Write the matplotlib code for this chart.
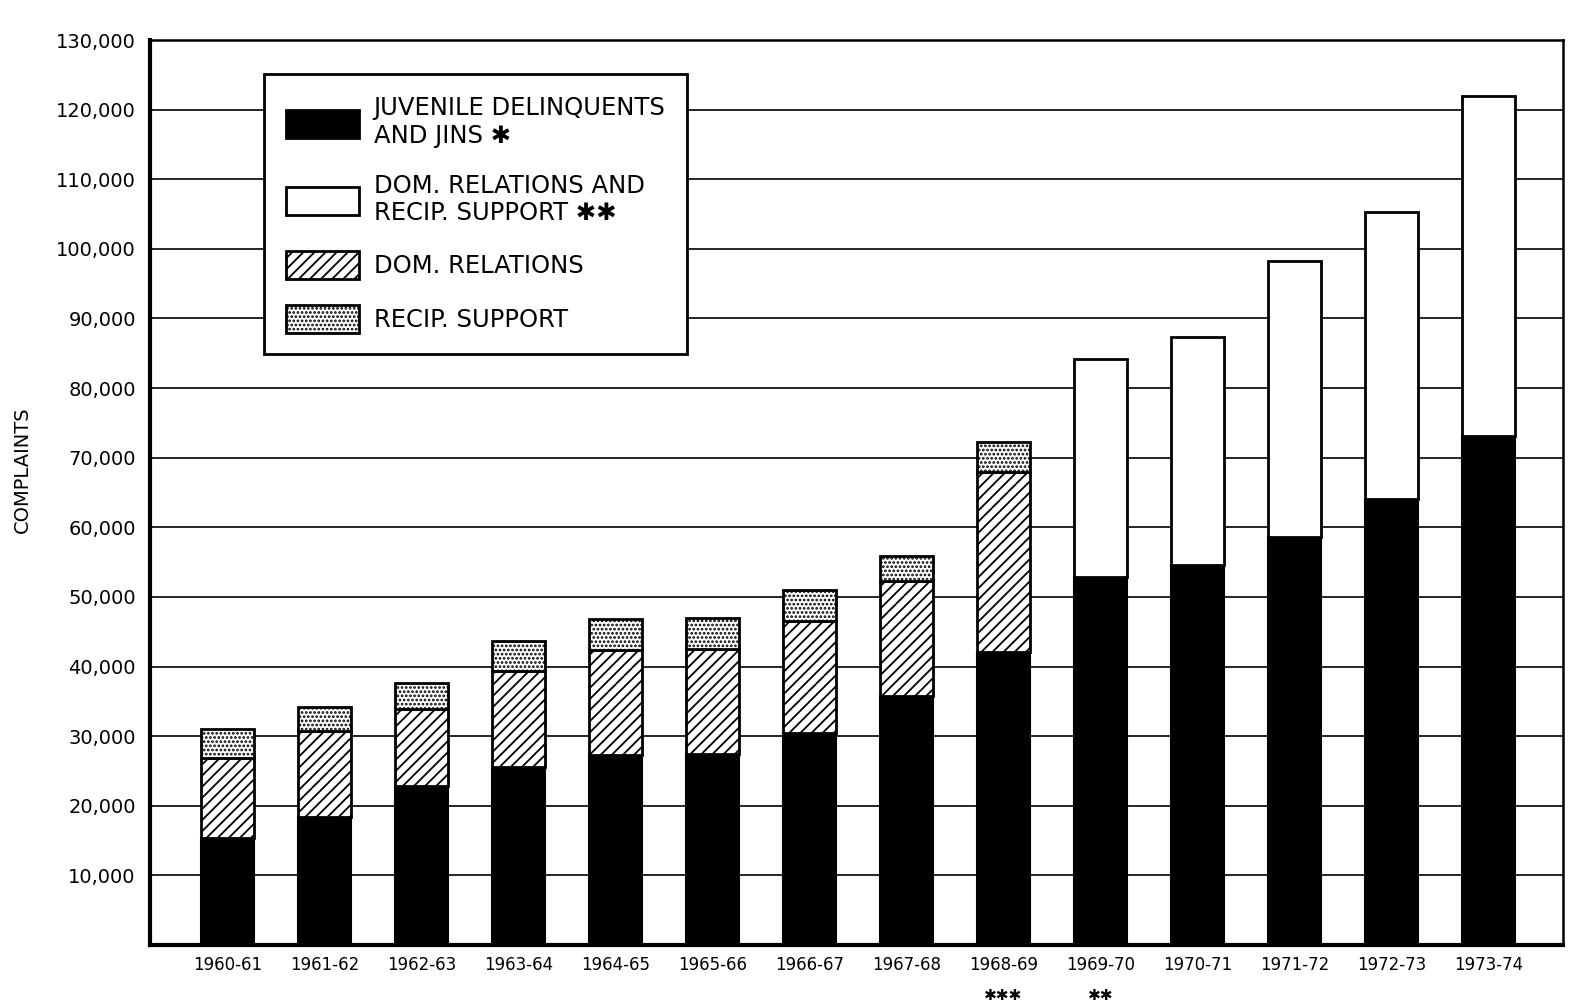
import matplotlib
matplotlib.use("Agg")
import matplotlib.pyplot as plt
from matplotlib.patches import Patch
import numpy as np

# ---- data (complaints) ----
years = ["1960-61", "1961-62", "1962-63", "1963-64", "1964-65", "1965-66", "1966-67",
         "1967-68", "1968-69", "1969-70", "1970-71", "1971-72", "1972-73", "1973-74"]
juvenile = [15300, 18400, 22800, 25500, 27300, 27400, 30400,
            35700, 42100, 52900, 54600, 58600, 64100, 73100]
dom_relations = [11600, 12400, 11100, 13800, 15100, 15100, 16200,
                 16600, 25900, 0, 0, 0, 0, 0]
recip_support = [4100, 3400, 3700, 4400, 4400, 4500, 4400,
                 3600, 4200, 0, 0, 0, 0, 0]
dom_and_recip = [0, 0, 0, 0, 0, 0, 0, 0, 0, 31300, 32800, 39700, 41200, 48800]
notes = ["", "", "", "", "", "", "", "", "\u2731\u2731\u2731", "\u2731\u2731", "", "", "", ""]
ytick_vals = [10000, 20000, 30000, 40000, 50000, 60000, 70000, 80000, 90000,
              100000, 110000, 120000, 130000]
ytick_labels = ["10,000", "20,000", "30,000", "40,000", "50,000", "60,000", "70,000",
                "80,000", "90,000", "100,000", "110,000", "120,000", "130,000"]
legend_labels = ["JUVENILE DELINQUENTS\nAND JINS \u2731",
                 "DOM. RELATIONS AND\nRECIP. SUPPORT \u2731\u2731",
                 "DOM. RELATIONS",
                 "RECIP. SUPPORT"]

plt.rcParams["font.family"] = ["DejaVu Sans"]
plt.rcParams["hatch.linewidth"] = 1.3

fig = plt.figure(figsize=(15.76, 10), dpi=100)
ax = fig.add_axes([0.095, 0.055, 0.897, 0.905])

x = np.arange(len(years))
w = 0.54
juv = np.array(juvenile, dtype=float)
dr = np.array(dom_relations, dtype=float)
rs = np.array(recip_support, dtype=float)
drs = np.array(dom_and_recip, dtype=float)

ax.bar(x, juv, w, color="black", edgecolor="black", linewidth=1.5, zorder=3)
m = dr > 0
ax.bar(x[m], dr[m], w, bottom=juv[m], facecolor="white", edgecolor="black",
       hatch="///", linewidth=2, zorder=3)
m = rs > 0
ax.bar(x[m], rs[m], w, bottom=(juv + dr)[m], facecolor="white", edgecolor="black",
       hatch="....", linewidth=2, zorder=3)
m = drs > 0
ax.bar(x[m], drs[m], w, bottom=juv[m], facecolor="white", edgecolor="black",
       linewidth=2, zorder=3)

ax.set_xlim(-0.8, len(years) - 1 + 0.77)
ax.set_ylim(0, 130000)
ax.set_yticks(ytick_vals)
ax.set_yticklabels(ytick_labels, fontsize=14)
ax.set_xticks(x)
ax.set_xticklabels(years, fontsize=12)
ax.tick_params(axis="both", length=0)
ax.tick_params(axis="y", pad=10)
ax.tick_params(axis="x", pad=8)
ax.yaxis.grid(True, color="black", linewidth=1.2)
ax.set_axisbelow(True)
for s in ["left", "bottom"]:
    ax.spines[s].set_linewidth(3)
for s in ["top", "right"]:
    ax.spines[s].set_linewidth(1.8)

for xi, n in zip(x, notes):
    if n:
        ax.text(xi, -0.047, n, transform=ax.get_xaxis_transform(), ha="center",
                va="top", fontsize=11)

fig.text(0.014, 0.53, "COMPLAINTS", rotation=90, ha="center", va="center",
         fontsize=14, family=["Liberation Sans Narrow", "DejaVu Sans"])

handles = [Patch(facecolor="black", edgecolor="black", linewidth=2),
           Patch(facecolor="white", edgecolor="black", linewidth=2),
           Patch(facecolor="white", edgecolor="black", hatch="///", linewidth=2),
           Patch(facecolor="white", edgecolor="black", hatch="....", linewidth=2)]
leg = ax.legend(handles, legend_labels, loc="upper left", bbox_to_anchor=(0.081, 0.962),
                fontsize=17.5, frameon=True, fancybox=False, framealpha=1,
                handlelength=3.0, handleheight=1.4, labelspacing=1.05,
                borderpad=0.9, handletextpad=0.6, borderaxespad=0)
leg.get_frame().set_edgecolor("black")
leg.get_frame().set_linewidth(2)
leg.set_zorder(5)

fig.savefig("out.png", dpi=100, facecolor="white")
